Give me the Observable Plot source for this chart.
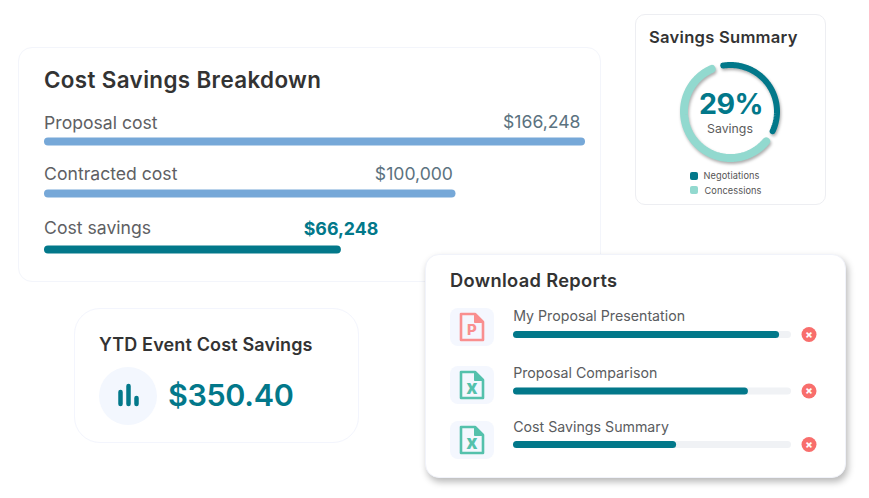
<!DOCTYPE html>
<html>
<head>
<meta charset="utf-8">
<script src="https://cdn.jsdelivr.net/npm/d3@7"></script>
<script src="https://cdn.jsdelivr.net/npm/@observablehq/plot@0.6"></script>
<style>
  html, body { margin: 0; padding: 0; background: #fff; }
  #stage { position: relative; width: 869px; height: 498px; overflow: hidden; font-family: Inter, sans-serif; }
  #stage > * { position: absolute; }
  .card { box-sizing: border-box; background: #fff; }
  .title { font-weight: 600; color: #333; white-space: nowrap; line-height: 1; transform: translateY(-50%); }
  .tile { background: #F4F7FE; border-radius: 8px; display: flex; align-items: center; justify-content: center; }
  .swatch { width: 8px; height: 8px; border-radius: 2px; }
  .legend { font-size: 9.2px; color: #555; line-height: 1; letter-spacing: .1px; transform: translateY(-50%); white-space: nowrap; }
</style>
</head>
<body>
<div id="stage"></div>
<script>
const teal = "#02788A", blue = "#76A8D8", mint = "#92D9CF";
const inter = "Inter, sans-serif";

// Cost Savings Breakdown
const costCategories = ["Proposal cost", "Contracted cost", "Cost savings"];
const costLabels = ["$166,248", "$100,000", "$66,248"];
const costBarShares = [100, 75.7, 54.2];
const costColors = [blue, blue, teal];

// Savings Summary
const arcNames = ["Negotiations", "Concessions"];
const arcStartDeg = [-9, 130];
const arcEndDeg = [115, 336];
const savingsPercent = "29%";

// YTD
const ytdValue = "$350.40";
const ytdIconBars = [14, 20, 8];

// Download Reports
const reportNames = ["My Proposal Presentation", "Proposal Comparison", "Cost Savings Summary"];
const reportProgress = [95.6, 84.1, 57.6];
const reportKinds = ["P", "x", "x"];

const stage = document.getElementById("stage");
function place(node, x, y) { node.style.left = x + "px"; node.style.top = y + "px"; stage.appendChild(node); return node; }
function card(l, t, r, b, radius, border, shadow) {
  const d = document.createElement("div");
  d.className = "card";
  d.style.cssText = `width:${r - l}px;height:${b - t}px;border-radius:${radius}px;border:1px solid ${border};${shadow ? "box-shadow:" + shadow + ";" : ""}`;
  return place(d, l, t);
}
function title(text, x, y, size, spacing, extra) {
  const d = document.createElement("div");
  d.className = "title";
  d.textContent = text;
  d.style.fontSize = size + "px";
  d.style.letterSpacing = spacing + "px";
  if (extra) d.style.cssText += extra;
  return place(d, x, y);
}
const transparent = {background: "transparent", overflow: "visible"};

/* ---------- Cost Savings Breakdown ---------- */
card(18, 47, 601, 282, 14, "#F3F5FB");
title("Cost Savings Breakdown", 44, 80, 22.4, 0.37);
{
  const rows = costCategories.map((name, i) => ({name, label: costLabels[i], share: costBarShares[i], color: costColors[i]}));
  const nudge = [0, -2, 0];
  const valueDx = [-1, 1, 41];
  const labelDy = [-18.5, -19, -21];
  const valueDy = [-19, -19, -20];
  const marks = rows.flatMap((d, i) => [
    Plot.ruleY([d], {x1: 0, x2: "share", y: "name", stroke: "color", strokeWidth: 8, strokeLinecap: "round", dy: nudge[i]}),
    Plot.text([d], {x: 0, y: "name", text: "name", textAnchor: "start", dx: -4.4, dy: nudge[i] + labelDy[i], fontSize: 17.6, fill: "#5E6063", fontFamily: inter}),
    Plot.text([d], {x: "share", y: "name", text: "label", textAnchor: "end", dx: valueDx[i], dy: nudge[i] + valueDy[i],
      fontSize: i === 2 ? 17.8 : 17.6, fontWeight: i === 2 ? 700 : 400, fill: i === 2 ? teal : "#5B7280", fontFamily: inter})
  ]);
  place(Plot.plot({
    width: 600, height: 280, margin: 0, style: transparent,
    x: {domain: [0, 100], range: [48, 581], axis: null},
    y: {type: "point", padding: 0, domain: costCategories, range: [141, 249], axis: null},
    marks
  }), 0, 0);
}

/* ---------- Savings Summary ---------- */
card(635, 14, 826, 205, 10, "#EDEEF2");
title("Savings Summary", 649, 37, 16.6, 0.25);
{
  const rad = Math.PI / 180;
  const pts = arcNames.flatMap((name, i) =>
    d3.range(arcStartDeg[i], arcEndDeg[i] + 0.5, 2).map(a => ({name, a: a * rad})));
  const svg = Plot.plot({
    width: 120, height: 120, margin: 0,
    style: {...transparent, filter: "drop-shadow(1px 2px 1.5px rgba(0,0,0,.32))"},
    x: {domain: [-1, 1], range: [13.5, 106.5], axis: null},
    y: {domain: [-1, 1], range: [106.5, 13.5], axis: null},
    color: {domain: arcNames, range: [teal, mint]},
    marks: [
      Plot.line(pts.filter(d => d.name === arcNames[1]), {x: d => Math.sin(d.a), y: d => Math.cos(d.a), stroke: "name", strokeWidth: 8, strokeLinecap: "round"}),
      Plot.line(pts.filter(d => d.name === arcNames[0]), {x: d => Math.sin(d.a), y: d => Math.cos(d.a), stroke: "name", strokeWidth: 6, strokeLinecap: "round"})
    ]
  });
  place(svg, 669.5, 51);
  title(savingsPercent, 731, 104, 28.6, -0.6, `color:${teal};font-weight:700;transform:translate(-50%,-50%);`);
  title("Savings", 730, 129, 12.3, 0, "color:#5B5B5B;font-weight:400;transform:translate(-50%,-50%);");
  [[teal, 689.7, 172, arcNames[0], 703.5, 176], [mint, 690.3, 186.3, arcNames[1], 704.5, 190.5]].forEach(([c, sx, sy, t, lx, ly]) => {
    const s = document.createElement("div"); s.className = "swatch"; s.style.background = c; place(s, sx, sy);
    const l = document.createElement("div"); l.className = "legend"; l.textContent = t; place(l, lx, ly);
  });
}

/* ---------- YTD Event Cost Savings ---------- */
card(74, 308, 359, 443, 26, "#F3F5FD");
title("YTD Event Cost Savings", 99, 345, 18, 0.15);
{
  const circle = document.createElement("div");
  circle.style.cssText = "width:58px;height:58px;border-radius:50%;background:#F3F7FE;";
  place(circle, 99, 367);
  const iconRows = ytdIconBars.map((v, i) => ({k: i, v}));
  place(Plot.plot({
    width: 28, height: 24, margin: 0, style: transparent,
    x: {type: "point", padding: 0, domain: d3.range(ytdIconBars.length), range: [4, 20], axis: null},
    y: {domain: [0, 20], range: [22, 2], axis: null},
    marks: [Plot.ruleX(iconRows, {x: "k", y1: 2, y2: "v", stroke: teal, strokeWidth: 4.5, strokeLinecap: "round"})]
  }), 116, 384);
  title(ytdValue, 168, 394.5, 30.5, -0.35, `color:${teal};font-weight:600;`);
}

/* ---------- Download Reports ---------- */
card(425, 254, 846, 478, 14, "#F1F3FA", "2px 4px 7px rgba(0,0,0,.28)");
title("Download Reports", 450, 280, 18.3, 0.33);
{
  const tileTops = [308, 366, 421];
  reportKinds.forEach((k, i) => {
    const t = document.createElement("div");
    t.className = "tile";
    t.style.cssText += "width:44px;height:38px;";
    const c = k === "P" ? "#F98F8F" : "#54C1AC";
    t.innerHTML = `<svg width="26" height="30" viewBox="0 0 26 30">
      <path d="M2 2 H16 L24 10 V28 H2 Z" fill="none" stroke="${c}" stroke-width="2.6" stroke-linejoin="round"/>
      <path d="M15.5 2 L24 10.5 H15.5 Z" fill="${c}" stroke="${c}" stroke-linejoin="round"/>
      <text x="13" y="${k === "P" ? 23 : 24}" text-anchor="middle" font-family="Inter, sans-serif" font-weight="800" font-size="${k === "P" ? 15 : 19}" fill="${c}">${k}</text></svg>`;
    place(t, 450, tileTops[i]);
  });
  const rows = reportNames.map((name, i) => ({name, v: reportProgress[i]}));
  const nudge = [0, 1.5, 0];
  const textDy = [-18, -17.5, -17.5];
  const marks = rows.flatMap((d, i) => [
    Plot.ruleY([d], {x1: 0, x2: 100, y: "name", stroke: "#F0F2F5", strokeWidth: 7, strokeLinecap: "round", dy: nudge[i]}),
    Plot.ruleY([d], {x1: 0, x2: "v", y: "name", stroke: teal, strokeWidth: 7, strokeLinecap: "round", dy: nudge[i]}),
    Plot.text([d], {x: 0, y: "name", text: "name", textAnchor: "start", dx: -3.8, dy: nudge[i] + textDy[i], fontSize: 14.2, fill: "#5A5C60", fontFamily: inter}),
    Plot.dot([d], {x: 100, y: "name", r: 7.5, fill: "#F86E6C", dx: 21, dy: nudge[i]}),
    Plot.text([d], {x: 100, y: "name", text: () => "×", dx: 21, dy: nudge[i] - 0.3, fill: "#fff", fontSize: 11, fontWeight: 800, fontFamily: inter})
  ]);
  place(Plot.plot({
    width: 421, height: 224, margin: 0, style: transparent,
    x: {domain: [0, 100], range: [91.5, 362.5], axis: null},
    y: {type: "point", padding: 0, domain: reportNames, range: [79.5, 190.5], axis: null},
    marks
  }), 425, 254);
}
</script>
</body>
</html>
